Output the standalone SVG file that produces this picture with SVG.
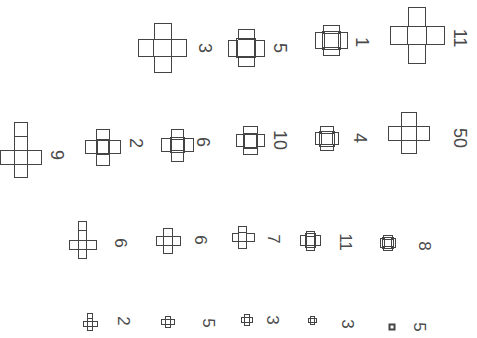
<svg xmlns="http://www.w3.org/2000/svg" width="477" height="338" viewBox="0 0 477 338">
<style>
rect{fill:none;stroke:#444;stroke-width:1}
text{font-family:"Liberation Sans",Arial,sans-serif;font-size:18px;fill:#4a4a4a;text-anchor:middle;dominant-baseline:central}
.s{font-size:17px}
.t{stroke-width:2}
</style>
<rect x="0" y="0" width="477" height="338" style="fill:#fff;stroke:none"/>
<g id="n3a"><rect x="153.5" y="39.5" width="18" height="17"/><rect x="154.5" y="23.5" width="17" height="16"/><rect x="154.5" y="56.5" width="17" height="16"/><rect x="138.5" y="39.5" width="15" height="17"/><rect x="171.5" y="39.5" width="15" height="17"/><text x="205" y="48" transform="rotate(90 205 48)">3</text></g>
<g id="n5a"><rect x="236.5" y="38.5" width="19" height="19"/><rect x="238.5" y="29.5" width="16" height="10"/><rect x="238.5" y="56.5" width="16" height="10"/><rect x="228.5" y="40.5" width="9" height="16"/><rect x="254.5" y="40.5" width="10" height="16"/><text x="280" y="48" transform="rotate(90 280 48)">5</text></g>
<g id="n1"><rect x="322.5" y="31.5" width="18" height="18"/><rect x="323.5" y="25.5" width="16" height="8"/><rect x="323.5" y="47.5" width="16" height="8"/><rect x="315.5" y="32.5" width="9" height="16"/><rect x="338.5" y="32.5" width="9" height="16"/><text x="362" y="42" transform="rotate(90 362 42)">1</text></g>
<g id="n11a"><rect x="407.5" y="26.5" width="19" height="18"/><rect x="408.5" y="7.5" width="17" height="19"/><rect x="408.5" y="44.5" width="17" height="19"/><rect x="390.5" y="26.5" width="17" height="18"/><rect x="426.5" y="26.5" width="18" height="18"/><text x="460" y="38" transform="rotate(90 460 38)">11</text></g>
<g id="n9"><rect x="14.5" y="122.5" width="13" height="14"/><rect x="14.5" y="136.5" width="13" height="14"/><rect x="14.5" y="150.5" width="13" height="14"/><rect x="14.5" y="164.5" width="13" height="13"/><rect x="0.5" y="150.5" width="14" height="14"/><rect x="27.5" y="150.5" width="14" height="14"/><text x="57" y="155" transform="rotate(90 57 155)">9</text></g>
<g id="n2a"><rect x="96.5" y="139.5" width="13" height="15"/><rect x="96.5" y="129.5" width="13" height="11"/><rect x="96.5" y="153.5" width="13" height="12"/><rect x="85.5" y="140.5" width="12" height="13"/><rect x="108.5" y="140.5" width="12" height="13"/><text x="136" y="143" transform="rotate(90 136 143)">2</text></g>
<g id="n6a"><rect x="170.5" y="137.5" width="14" height="15"/><rect x="171.5" y="129.5" width="12" height="10"/><rect x="171.5" y="150.5" width="12" height="11"/><rect x="161.5" y="138.5" width="10" height="13"/><rect x="183.5" y="138.5" width="10" height="13"/><text x="203" y="142" transform="rotate(90 203 142)">6</text></g>
<g id="n10"><rect x="243.5" y="133.5" width="14" height="15"/><rect x="243.5" y="126.5" width="14" height="8"/><rect x="243.5" y="147.5" width="14" height="7"/><rect x="236.5" y="134.5" width="8" height="12"/><rect x="256.5" y="134.5" width="8" height="12"/><text x="280" y="140" transform="rotate(90 280 140)">10</text></g>
<g id="n4"><rect x="319.5" y="131.5" width="15" height="15"/><rect x="320.5" y="126.5" width="13" height="7"/><rect x="320.5" y="144.5" width="13" height="6"/><rect x="315.5" y="132.5" width="6" height="12"/><rect x="332.5" y="132.5" width="6" height="12"/><text x="360" y="138" transform="rotate(90 360 138)">4</text></g>
<g id="n50"><rect x="401.5" y="126.5" width="15" height="14"/><rect x="401.5" y="112.5" width="15" height="14"/><rect x="401.5" y="140.5" width="15" height="13"/><rect x="388.5" y="126.5" width="13" height="14"/><rect x="416.5" y="126.5" width="13" height="14"/><text x="460" y="138" transform="rotate(90 460 138)">50</text></g>
<g id="n6b"><rect x="78.5" y="221.5" width="8" height="9"/><rect x="78.5" y="230.5" width="8" height="10"/><rect x="78.5" y="240.5" width="8" height="9"/><rect x="78.5" y="249.5" width="8" height="9"/><rect x="69.5" y="240.5" width="9" height="9"/><rect x="86.5" y="240.5" width="10" height="9"/><text class="s" x="120" y="243" transform="rotate(90 120 243)">6</text></g>
<g id="n6c"><rect x="163.5" y="236.5" width="9" height="9"/><rect x="163.5" y="228.5" width="9" height="8"/><rect x="163.5" y="245.5" width="9" height="8"/><rect x="156.5" y="236.5" width="7" height="9"/><rect x="172.5" y="236.5" width="8" height="9"/><text class="s" x="200" y="240" transform="rotate(90 200 240)">6</text></g>
<g id="n7"><rect x="238.5" y="232.5" width="8" height="9"/><rect x="238.5" y="226.5" width="8" height="6"/><rect x="238.5" y="241.5" width="8" height="7"/><rect x="232.5" y="233.5" width="6" height="8"/><rect x="246.5" y="233.5" width="8" height="8"/><text class="s" x="273" y="239" transform="rotate(90 273 239)">7</text></g>
<g id="n11b"><rect x="305.5" y="233.5" width="10" height="14"/><rect x="306.5" y="231.5" width="8" height="5"/><rect x="306.5" y="245.5" width="8" height="5"/><rect x="300.5" y="235.5" width="6" height="10"/><rect x="314.5" y="235.5" width="6" height="10"/><text class="s" x="345" y="242" transform="rotate(90 345 242)">11</text></g>
<g id="n8"><rect x="382.5" y="237.5" width="11" height="11"/><rect x="383.5" y="235.5" width="9" height="4"/><rect x="383.5" y="246.5" width="9" height="4"/><rect x="380.5" y="238.5" width="4" height="9"/><rect x="391.5" y="238.5" width="4" height="9"/><text class="s" x="424" y="246" transform="rotate(90 424 246)">8</text></g>
<g id="n2b"><rect x="87.5" y="313.5" width="5" height="5"/><rect x="87.5" y="318.5" width="5" height="3"/><rect x="87.5" y="321.5" width="5" height="5"/><rect x="87.5" y="326.5" width="5" height="4"/><rect x="83.5" y="321.5" width="4" height="5"/><rect x="92.5" y="321.5" width="5" height="5"/><text class="s" x="123" y="321" transform="rotate(90 123 321)">2</text></g>
<g id="n5b"><rect x="165.5" y="319.5" width="5" height="5"/><rect x="165.5" y="316.5" width="5" height="3"/><rect x="165.5" y="324.5" width="5" height="3"/><rect x="161.5" y="319.5" width="4" height="5"/><rect x="170.5" y="319.5" width="4" height="5"/><text class="s" x="208" y="323" transform="rotate(90 208 323)">5</text></g>
<g id="n3b"><rect x="244.5" y="317.5" width="5" height="5"/><rect x="244.5" y="314.5" width="5" height="3"/><rect x="244.5" y="322.5" width="5" height="3"/><rect x="241.5" y="317.5" width="3" height="5"/><rect x="249.5" y="317.5" width="3" height="5"/><text class="s" x="272" y="320" transform="rotate(90 272 320)">3</text></g>
<g id="n3c"><rect x="310.5" y="318.5" width="4" height="4"/><rect x="310.5" y="316.5" width="4" height="2"/><rect x="310.5" y="322.5" width="4" height="2"/><rect x="308.5" y="318.5" width="2" height="4"/><rect x="314.5" y="318.5" width="2" height="4"/><text class="s" x="347" y="324" transform="rotate(90 347 324)">3</text></g>
<g id="n5c"><rect class="t" x="389.5" y="324.5" width="5" height="5"/><text class="s" x="419" y="327" transform="rotate(90 419 327)">5</text></g>
</svg>
